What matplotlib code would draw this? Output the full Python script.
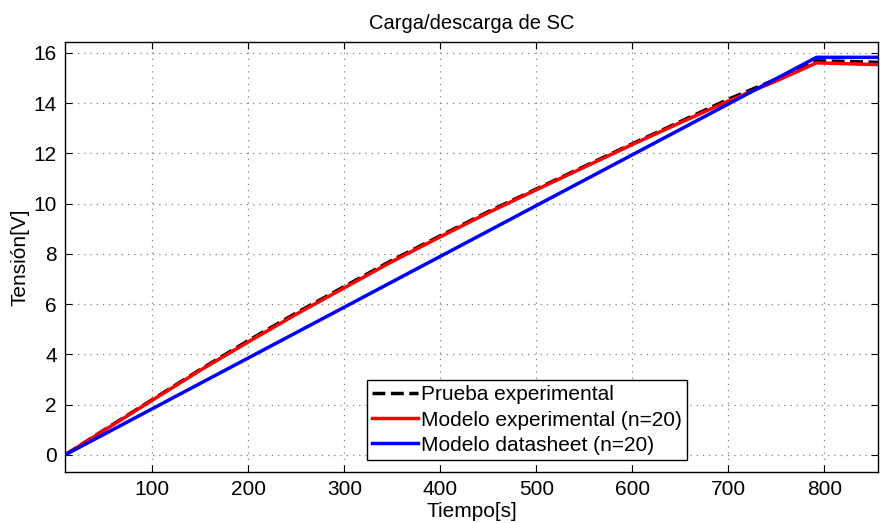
import matplotlib.pyplot as plt


# Carga/descarga del supercondensador: prueba vs modelos
TIME_EXP = [9, 50, 100, 150, 200, 250, 300, 350, 400, 450, 500, 550,
            600, 650, 700, 750, 792, 820, 856]
V_PRUEBA = [0.0, 1.0, 2.2, 3.4, 4.55, 5.65, 6.7, 7.75, 8.72, 9.68, 10.58,
            11.48, 12.38, 13.26, 14.15, 14.95, 15.68, 15.66, 15.62]
V_MODELO_EXP = [0.0, 0.98, 2.18, 3.37, 4.5, 5.6, 6.65, 7.7, 8.68, 9.64,
                10.55, 11.45, 12.35, 13.22, 14.08, 14.88, 15.6, 15.57, 15.53]

TIME_DS = [9, 792, 856]
V_MODELO_DS = [0.0, 15.82, 15.82]

X_TICKS = [100, 200, 300, 400, 500, 600, 700, 800]
Y_TICKS = [0, 2, 4, 6, 8, 10, 12, 14, 16]

FONT_SIZE = 15


def plot_carga(output_path: str) -> None:
    plt.rcParams["font.family"] = ["Liberation Sans", "DejaVu Sans"]

    fig = plt.figure(figsize=(8.8, 5.23), dpi=100)
    ax = fig.add_axes([0.0739, 0.0975, 0.9238, 0.8222])

    ax.plot(TIME_EXP, V_PRUEBA, "k--", linewidth=2.5, label="Prueba experimental", zorder=3)
    ax.plot(TIME_EXP, V_MODELO_EXP, color="#ff0000", linewidth=2.5,
            label="Modelo experimental (n=20)", zorder=4)
    ax.plot(TIME_DS, V_MODELO_DS, color="#0000ff", linewidth=2.5,
            label="Modelo datasheet (n=20)", zorder=4)

    ax.set_xlim(9, 856)
    ax.set_ylim(-0.68, 16.43)
    ax.set_xticks(X_TICKS)
    ax.set_yticks(Y_TICKS)

    ax.grid(True, linestyle=(0, (1, 4)), color="#808080", linewidth=0.9)
    ax.tick_params(direction="in", top=True, right=True, length=5,
                   labelsize=FONT_SIZE, width=0.8, pad=6)
    for spine in ax.spines.values():
        spine.set_linewidth(1.0)

    ax.set_title("Carga/descarga de SC", fontsize=FONT_SIZE - 0.5, pad=9)
    ax.set_xlabel("Tiempo[s]", fontsize=FONT_SIZE, labelpad=2)
    ax.set_ylabel("Tensión[V]", fontsize=FONT_SIZE, labelpad=3)

    leg = ax.legend(loc="lower left", bbox_to_anchor=(0.371, 0.028),
                    fontsize=FONT_SIZE, frameon=True, fancybox=False,
                    framealpha=1, edgecolor="black", borderaxespad=0,
                    handlelength=2.2, handletextpad=0.15, labelspacing=0.3,
                    borderpad=0.25)
    leg.get_frame().set_linewidth(1.0)

    fig.savefig(output_path, dpi=100)
    plt.close(fig)


def main() -> None:
    plot_carga("out.png")


if __name__ == "__main__":
    main()
